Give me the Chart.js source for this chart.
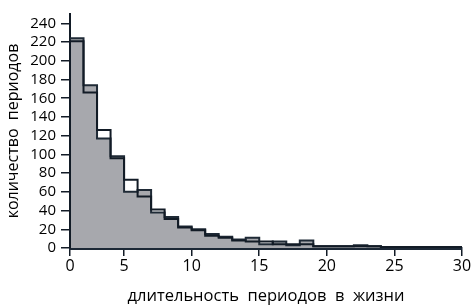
<!DOCTYPE html>
<html>
<head>
<meta charset="utf-8">
<script src="https://cdn.jsdelivr.net/npm/chart.js@4"></script>
<style>
  html, body { margin: 0; padding: 0; background: #fff; }
  #wrap { width: 476px; height: 306px; }
</style>
</head>
<body>
<div id="wrap"><canvas id="chart"></canvas></div>
<script>
// bin left edges (period length), one bin per unit
const binStarts = [1, 2, 3, 4, 5, 6, 7, 8, 9, 10, 11, 12, 13, 14, 15, 16, 17, 18, 19, 20, 21, 22, 23, 24, 25, 26, 27, 28, 29];
const binEnd = 30;

// grey filled histogram
const greyCounts = [224, 174, 117, 98, 60, 62, 38, 33, 23, 20, 15, 12, 9, 11, 4, 7, 3, 8, 2, 2, 2, 3, 2, 1, 1, 1, 1, 1, 1];
// open (outlined) histogram
const openCounts = [221, 166, 126, 96, 73, 55, 41, 31, 22, 19, 13, 11, 8, 7, 7, 4, 4, 4, 2, 2, 2, 2, 2, 1, 1, 1, 1, 1, 1];

const xTickValues = [1, 5, 10, 15, 20, 25, 30];
const xTickLabels = ['0', '5', '10', '15', '20', '25', '30'];
const yTickValues = [0, 20, 40, 60, 80, 100, 120, 140, 160, 180, 200, 220, 240];

const ink = '#121b26';

// step outline: start at baseline, one point per bin, close at baseline
function stepPoints(counts) {
    const pts = [{ x: binStarts[0], y: 0 }];
    binStarts.forEach((b, i) => pts.push({ x: b, y: counts[i] }));
    pts.push({ x: binEnd, y: 0 });
    return pts;
}

const fontFamily = '"Open Sans", "Noto Sans", sans-serif';

new Chart(document.getElementById('chart'), {
    type: 'line',
    data: {
        datasets: [
            {
                label: 'open',
                data: stepPoints(openCounts),
                stepped: 'before',
                borderColor: ink,
                borderWidth: 2,
                fill: false,
                pointRadius: 0
            },
            {
                label: 'grey',
                data: stepPoints(greyCounts),
                stepped: 'before',
                borderColor: '#1f2a36',
                borderWidth: 2,
                backgroundColor: '#a7a8ad',
                fill: 'origin',
                pointRadius: 0
            }
        ]
    },
    options: {
        responsive: true,
        maintainAspectRatio: false,
        animation: false,
        layout: { padding: { top: 6, right: 14, left: 0, bottom: 0 } },
        plugins: {
            legend: { display: false },
            tooltip: { enabled: false }
        },
        scales: {
            x: {
                type: 'linear',
                min: 1,
                max: 30,
                afterBuildTicks: (scale) => {
                    scale.ticks = xTickValues.map(v => ({ value: v }));
                },
                afterFit: (scale) => { scale.height = 58; },
                ticks: {
                    callback: (v) => xTickLabels[xTickValues.indexOf(v)],
                    color: '#000',
                    font: { family: fontFamily, size: 16 },
                    padding: 1,
                    maxRotation: 0,
                    autoSkip: false
                },
                grid: {
                    drawOnChartArea: false,
                    drawTicks: true,
                    tickLength: 8,
                    color: ink,
                    lineWidth: 1.5
                },
                border: { display: true, color: '#1c2836', width: 3 },
                title: {
                    display: true,
                    text: 'длительность  периодов  в  жизни',
                    color: '#000',
                    font: { family: fontFamily, size: 16.5 },
                    padding: { top: 1, bottom: 0 }
                }
            },
            y: {
                min: 0,
                max: 250,
                afterBuildTicks: (scale) => {
                    scale.ticks = yTickValues.map(v => ({ value: v }));
                },
                afterFit: (scale) => { scale.width = 70; },
                ticks: {
                    color: '#000',
                    font: { family: fontFamily, size: 15 },
                    padding: 5,
                    autoSkip: false
                },
                grid: {
                    drawOnChartArea: false,
                    drawTicks: true,
                    tickLength: 9,
                    color: ink,
                    lineWidth: 1.5
                },
                border: { display: true, color: ink, width: 2 },
                title: {
                    display: true,
                    text: 'количество  периодов',
                    color: '#000',
                    font: { family: fontFamily, size: 16 },
                    padding: { top: 4, bottom: 0 }
                }
            }
        }
    }
});
</script>
</body>
</html>
